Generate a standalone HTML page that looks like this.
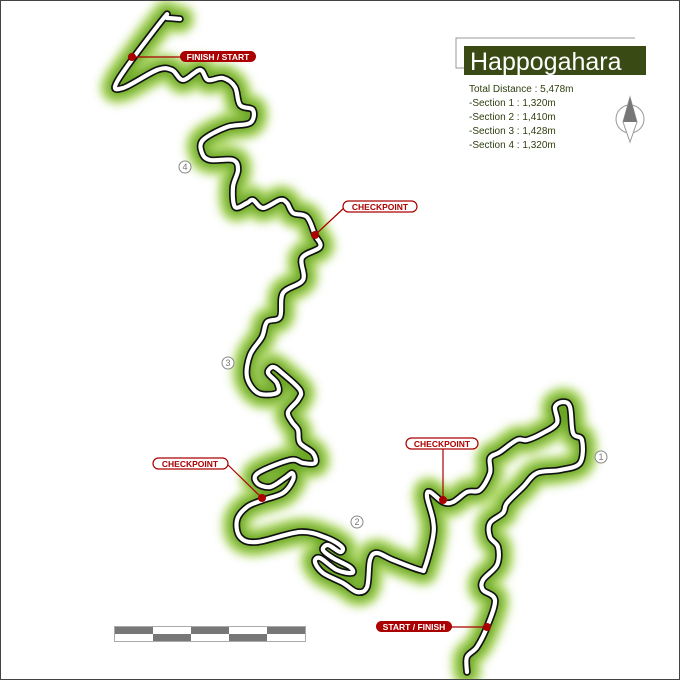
<!DOCTYPE html>
<html><head><meta charset="utf-8"><style>
html,body{margin:0;padding:0;background:#fff}
#w{position:relative;width:678px;height:678px;border:1px solid #444;overflow:hidden;font-family:"Liberation Sans",sans-serif}
svg{position:absolute;left:-1px;top:-1px}
</style></head><body><div id="w">
<svg width="680" height="680" viewBox="0 0 680 680">
<defs>
<filter id="g" x="-20%" y="-20%" width="140%" height="140%"><feGaussianBlur stdDeviation="4.5"/></filter>
<path id="t" fill="none" d=""/>
</defs>
<use href="#t" stroke="#a6d45a" stroke-width="30" stroke-linejoin="round" stroke-linecap="round" filter="url(#g)" opacity="0.85"/>
<use href="#t" stroke="#5f9e12" stroke-width="15" stroke-linejoin="round" stroke-linecap="round" filter="url(#g)" opacity="0.85"/>
<use href="#t" stroke="#111" stroke-width="7.5" stroke-linejoin="round" stroke-linecap="round"/>
<use href="#t" stroke="#fff" stroke-width="4.2" stroke-linejoin="round" stroke-linecap="round"/>

<g stroke="#a00" stroke-width="1.2" fill="none">
<line x1="132" y1="57" x2="182" y2="57"/>
<line x1="315" y1="235" x2="345" y2="207"/>
<line x1="262" y1="498" x2="227" y2="464"/>
<line x1="443" y1="500" x2="443" y2="449"/>
<line x1="487" y1="627" x2="450" y2="627"/>
</g>
<g fill="#a00">
<circle cx="132" cy="57" r="4"/><circle cx="315" cy="235" r="4"/><circle cx="262" cy="498" r="4"/><circle cx="443" cy="500" r="4"/><circle cx="487" cy="627" r="4"/>
<rect x="180" y="51" width="76" height="11" rx="5.5"/>
<rect x="376" y="621" width="76" height="11" rx="5.5"/>
</g>
<g fill="#fff" stroke="#a00" stroke-width="1.2">
<rect x="343" y="201" width="74" height="11" rx="5.5"/>
<rect x="153" y="458" width="75" height="11" rx="5.5"/>
<rect x="406" y="438" width="72" height="11" rx="5.5"/>
</g>
<g font-size="8.5" text-anchor="middle" font-family="Liberation Sans,sans-serif" font-weight="bold">
<text x="218" y="60" fill="#fff">FINISH / START</text>
<text x="414" y="630" fill="#fff">START / FINISH</text>
<text x="380" y="210" fill="#a00">CHECKPOINT</text>
<text x="190" y="467" fill="#a00">CHECKPOINT</text>
<text x="442" y="447" fill="#a00">CHECKPOINT</text>
</g>
<g fill="#fff" stroke="#888" stroke-width="1">
<circle cx="601" cy="457" r="6"/><circle cx="357" cy="522" r="6"/><circle cx="228" cy="363" r="6"/><circle cx="185" cy="167" r="6"/>
</g>
<g font-size="9" text-anchor="middle" fill="#777">
<text x="601" y="460">1</text><text x="357" y="525">2</text><text x="228" y="366">3</text><text x="185" y="170">4</text>
</g>

<polyline points="635,38 456,38 456,68 464,68" fill="none" stroke="#999" stroke-width="1"/>
<rect x="464" y="46" width="182" height="29" fill="#394a14"/>
<text x="470" y="70" font-size="25" fill="#fff">Happogahara</text>
<g font-size="10" fill="#2f3f10">
<text x="469" y="92">Total Distance : 5,478m</text>
<text x="469" y="106">-Section 1 : 1,320m</text>
<text x="469" y="120">-Section 2 : 1,410m</text>
<text x="469" y="134">-Section 3 : 1,428m</text>
<text x="469" y="148">-Section 4 : 1,320m</text>
</g>
<circle cx="630" cy="119" r="14" fill="none" stroke="#999" stroke-width="1"/>
<polygon points="630,97 637,122 630,142 623,122" fill="#fff" stroke="#999"/>
<polygon points="630,97 637,122 623,122" fill="#777"/>

<g stroke="#aaa" stroke-width="1">
<rect x="114.5" y="626.5" width="191" height="15" fill="#fff"/>
</g>
<g fill="#777">
<rect x="115" y="627" width="38" height="7"/><rect x="191" y="627" width="38" height="7"/><rect x="267" y="627" width="38" height="7"/>
<rect x="153" y="634" width="38" height="7"/><rect x="229" y="634" width="38" height="7"/>
</g>
</svg>
</div>
<script>
(function(){
var s="467,672 467,657 477,647 487,627 495,600 483,590 483,580 497,565 498,547 490,537 490,523 503,513 507,503 523,487 537,473 560,470 580,463 582,440 573,433 570,407 563,402 555,407 557,423 543,433 527,440 517,440 500,452 490,458 490,473 480,490 467,492 453,502 443,502 430,492 427,497 433,520 433,537 425,567 420,570 393,560 377,553 370,560 367,587 357,592 343,583 323,573 315,562 320,558 337,570 352,573 350,567 333,558 323,550 328,545 340,552 342,547 327,538 300,532 257,542 240,537 237,520 247,507 263,500 283,493 293,480 292,473 285,478 270,487 257,483 258,473 290,460 303,463 315,463 313,453 300,443 298,430 292,422 288,412 298,400 300,390 282,373 273,367 268,373 277,383 277,393 258,393 247,377 250,355 262,337 267,322 280,317 283,293 303,280 302,258 320,247 315,235 307,217 293,213 287,203 280,200 263,208 253,200 247,203 235,207 233,187 238,170 233,160 210,160 202,153 203,140 227,127 250,123 253,110 240,105 235,87 223,78 208,80 200,70 183,80 172,70 157,70 123,88 118,80 163,19 167,18 180,19";
var p=s.split(" ").map(function(a){return a.split(",").map(Number)});
var d="M"+p[0][0]+","+p[0][1];
for(var i=0;i<p.length-1;i++){
var p0=p[i-1]||p[i],p1=p[i],p2=p[i+1],p3=p[i+2]||p2;
var c1x=p1[0]+(p2[0]-p0[0])/6,c1y=p1[1]+(p2[1]-p0[1])/6,c2x=p2[0]-(p3[0]-p1[0])/6,c2y=p2[1]-(p3[1]-p1[1])/6;
d+=" C"+c1x.toFixed(1)+","+c1y.toFixed(1)+" "+c2x.toFixed(1)+","+c2y.toFixed(1)+" "+p2[0]+","+p2[1];
}
document.getElementById("t").setAttribute("d",d);
})();
</script>
</body></html>
